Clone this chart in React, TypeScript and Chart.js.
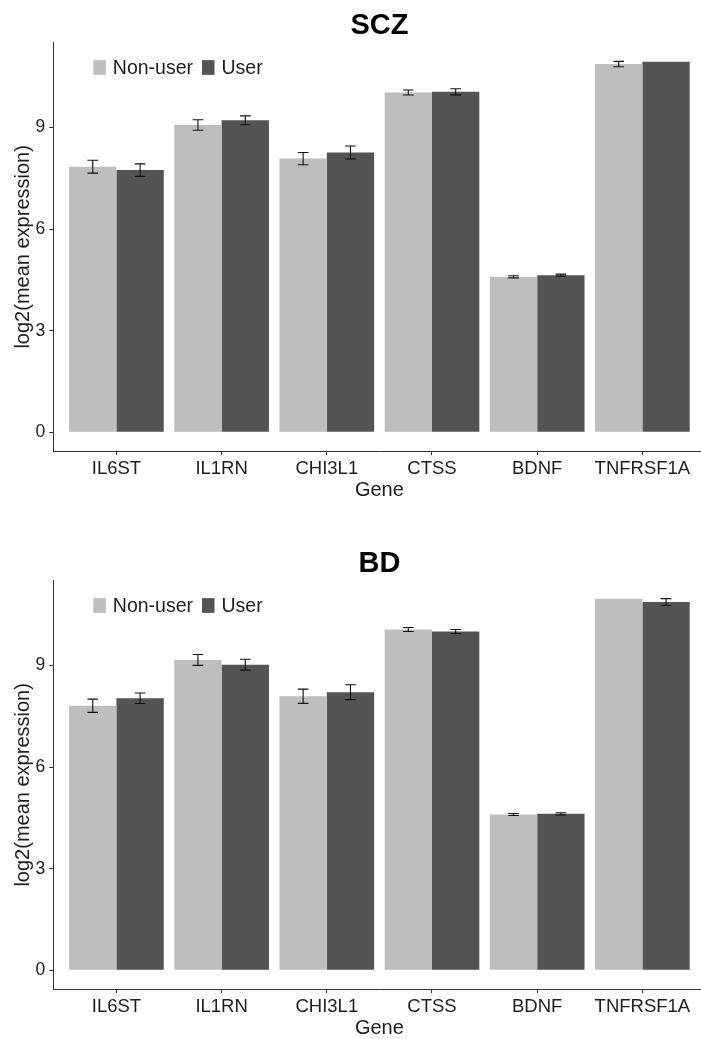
import React, { useEffect, useRef } from 'react';
import { Chart, registerables } from 'chart.js';

Chart.register(...registerables);

const genes = ['IL6ST', 'IL1RN', 'CHI3L1', 'CTSS', 'BDNF', 'TNFRSF1A'];
const seriesNames = ['Non-user', 'User'];
const yTicks = [0, 3, 6, 9];

const sczNonUser = [7.84, 9.07, 8.08, 10.03, 4.59, 10.87];
const sczNonUserErr = [0.19, 0.155, 0.18, 0.075, 0.03, 0.08];
const sczUser = [7.74, 9.21, 8.26, 10.05, 4.64, 10.94];
const sczUserErr = [0.185, 0.13, 0.19, 0.09, 0.03, 0];

const bdNonUser = [7.81, 9.16, 8.09, 10.06, 4.6, 10.97];
const bdNonUserErr = [0.195, 0.16, 0.21, 0.06, 0.03, 0];
const bdUser = [8.03, 9.02, 8.21, 10.0, 4.62, 10.87];
const bdUserErr = [0.155, 0.16, 0.22, 0.06, 0.03, 0.1];

const FONT = "'Liberation Sans', Arial, Helvetica, sans-serif";
const NON_COLOR = '#BEBEBE';
const USER_COLOR = '#545454';
const AXIS_COLOR = '#333333';
const TEXT_COLOR = '#1e1e1e';

const W = 710;
const H = 538;

const overlayPlugin = {
  id: 'overlay',
  afterDatasetsDraw(chart: any, _args: any, opts: any) {
    const ctx = chart.ctx;
    const ys = chart.scales.y;
    ctx.save();
    ctx.strokeStyle = '#111111';
    ctx.lineWidth = 1.1;
    chart.data.datasets.forEach((ds: any, di: number) => {
      const meta = chart.getDatasetMeta(di);
      const errs = opts.errors[di];
      meta.data.forEach((el: any, i: number) => {
        const e = errs[i];
        if (!e) return;
        const v = ds.data[i].y;
        const x = el.x;
        const yHi = ys.getPixelForValue(v + e);
        const yLo = ys.getPixelForValue(v - e);
        const hw = 5.3;
        ctx.beginPath();
        ctx.moveTo(x, yHi);
        ctx.lineTo(x, yLo);
        ctx.moveTo(x - hw, yHi);
        ctx.lineTo(x + hw, yHi);
        ctx.moveTo(x - hw, yLo);
        ctx.lineTo(x + hw, yLo);
        ctx.stroke();
      });
    });
    ctx.restore();
  },
  afterDraw(chart: any, _args: any, opts: any) {
    const ctx = chart.ctx;
    const area = chart.chartArea;
    ctx.save();
    // title
    ctx.fillStyle = '#000000';
    ctx.font = `bold 29px ${FONT}`;
    ctx.textAlign = 'center';
    ctx.textBaseline = 'middle';
    ctx.fillText(opts.title, (area.left + area.right) / 2, 25.5);
    // legend
    ctx.font = `19.5px ${FONT}`;
    ctx.textAlign = 'left';
    let x = 93.3;
    const boxW = 12.5;
    const boxH = 14.7;
    const cy = 67.5;
    const colors = [NON_COLOR, USER_COLOR];
    seriesNames.forEach((name, i) => {
      ctx.fillStyle = colors[i];
      ctx.fillRect(x, cy - boxH / 2, boxW, boxH);
      ctx.fillStyle = TEXT_COLOR;
      const tx = x + boxW + 7;
      ctx.fillText(name, tx, cy + 1);
      x = tx + ctx.measureText(name).width + 9;
    });
    ctx.restore();
  },
};

type PanelProps = {
  title: string;
  nonUser: number[];
  nonUserErr: number[];
  user: number[];
  userErr: number[];
  top: number;
};

function Panel({ title, nonUser, nonUserErr, user, userErr, top }: PanelProps) {
  const ref = useRef<HTMLCanvasElement>(null);
  useEffect(() => {
    const canvas = ref.current!;
    const chart = new Chart(canvas, {
      type: 'bar',
      data: {
        datasets: [
          {
            label: seriesNames[0],
            data: nonUser.map((v, i) => ({ x: i + 1, y: v })),
            backgroundColor: NON_COLOR,
            borderWidth: 0,
            categoryPercentage: 0.9,
            barPercentage: 1,
          },
          {
            label: seriesNames[1],
            data: user.map((v, i) => ({ x: i + 1, y: v })),
            backgroundColor: USER_COLOR,
            borderWidth: 0,
            categoryPercentage: 0.9,
            barPercentage: 1,
          },
        ],
      } as any,
      options: {
        animation: false,
        responsive: false,
        layout: { padding: { top: 42.7, right: 4.5, left: 0, bottom: 0 } },
        plugins: {
          legend: { display: false },
          title: { display: false },
          tooltip: { enabled: false },
          overlay: { title, errors: [nonUserErr, userErr] },
        } as any,
        scales: {
          x: {
            type: 'linear',
            min: 0.4,
            max: 6.6,
            offset: false,
            afterBuildTicks: (s: any) => {
              s.ticks = genes.map((_, i) => ({ value: i + 1 }));
            },
            afterFit: (s: any) => {
              s.height = 87;
            },
            ticks: {
              autoSkip: false,
              maxRotation: 0,
              minRotation: 0,
              padding: 3,
              color: TEXT_COLOR,
              font: { family: FONT, size: 18.5 },
              callback: (v: any) => genes[Math.round(Number(v)) - 1] ?? '',
            },
            grid: {
              display: true,
              offset: false,
              drawOnChartArea: false,
              drawTicks: true,
              tickLength: 4,
              color: AXIS_COLOR,
              lineWidth: 1,
            },
            border: { display: true, color: AXIS_COLOR, width: 1 },
            title: {
              display: true,
              text: 'Gene',
              color: TEXT_COLOR,
              font: { family: FONT, size: 20 },
              padding: { top: 0, bottom: 36 },
            },
          },
          y: {
            type: 'linear',
            min: -0.55,
            max: 11.5,
            afterBuildTicks: (s: any) => {
              s.ticks = yTicks.map((v) => ({ value: v }));
            },
            afterFit: (s: any) => {
              s.width = 53.3;
            },
            ticks: {
              padding: 4,
              color: TEXT_COLOR,
              font: { family: FONT, size: 17.5 },
            },
            grid: {
              display: true,
              drawOnChartArea: false,
              drawTicks: true,
              tickLength: 4,
              color: AXIS_COLOR,
              lineWidth: 1,
            },
            border: { display: true, color: AXIS_COLOR, width: 1 },
            title: {
              display: true,
              text: 'log2(mean expression)',
              color: TEXT_COLOR,
              font: { family: FONT, size: 20 },
              padding: { top: 11, bottom: 0 },
            },
          },
        },
      } as any,
      plugins: [overlayPlugin as any],
    });
    return () => chart.destroy();
  }, []);
  return (
    <div style={{ position: 'absolute', left: 0, top, width: W, height: H }}>
      <canvas ref={ref} width={W} height={H} style={{ width: W, height: H, display: 'block' }} />
    </div>
  );
}

export default function App() {
  return (
    <div
      style={{
        position: 'absolute',
        left: 0,
        top: 0,
        width: 701,
        height: 1039,
        overflow: 'hidden',
        background: '#ffffff',
      }}
    >
      <Panel title="SCZ" nonUser={sczNonUser} nonUserErr={sczNonUserErr} user={sczUser} userErr={sczUserErr} top={0} />
      <Panel title="BD" nonUser={bdNonUser} nonUserErr={bdNonUserErr} user={bdUser} userErr={bdUserErr} top={538} />
    </div>
  );
}
